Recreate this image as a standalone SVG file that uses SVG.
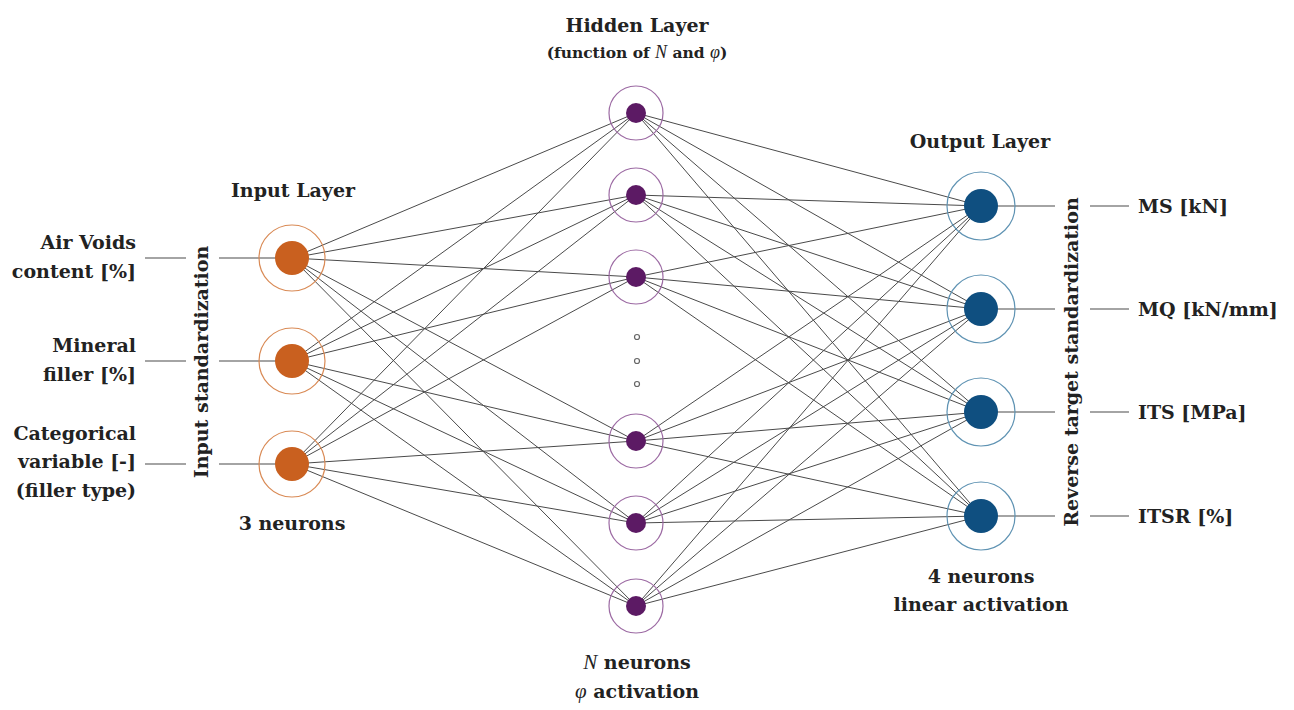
<svg xmlns="http://www.w3.org/2000/svg" width="1294" height="710" viewBox="0 0 1294 710">
<style>
text{font-family:"DejaVu Serif","Liberation Serif",serif;font-weight:bold;fill:#222;}
.lbl{font-size:19px;}
.ttl{font-size:19px;text-anchor:middle;}
.sub{font-size:15.5px;text-anchor:middle;}
.it{font-family:"Liberation Serif","DejaVu Serif",serif;font-style:italic;font-weight:normal;}
.conn line{stroke:#4a4a4a;stroke-width:1;}
.io line{stroke:#4a4a4a;stroke-width:1.2;}
.in .ring{fill:none;stroke:#d98a55;stroke-width:1.2;}
.in .core{fill:#c9601f;}
.hid .ring{fill:none;stroke:#9c6aa3;stroke-width:1.2;}
.hid .core{fill:#5c1a64;}
.out .ring{fill:none;stroke:#5f93b3;stroke-width:1.2;}
.out .core{fill:#0f4f80;}
</style>
<rect width="1294" height="710" fill="#fff"/>
<g class="conn">
<line x1="292" y1="258" x2="636" y2="113"/><line x1="292" y1="258" x2="636" y2="195"/><line x1="292" y1="258" x2="636" y2="277"/><line x1="292" y1="258" x2="636" y2="441"/><line x1="292" y1="258" x2="636" y2="523"/><line x1="292" y1="258" x2="636" y2="606"/>
<line x1="292" y1="361" x2="636" y2="113"/><line x1="292" y1="361" x2="636" y2="195"/><line x1="292" y1="361" x2="636" y2="277"/><line x1="292" y1="361" x2="636" y2="441"/><line x1="292" y1="361" x2="636" y2="523"/><line x1="292" y1="361" x2="636" y2="606"/>
<line x1="292" y1="464" x2="636" y2="113"/><line x1="292" y1="464" x2="636" y2="195"/><line x1="292" y1="464" x2="636" y2="277"/><line x1="292" y1="464" x2="636" y2="441"/><line x1="292" y1="464" x2="636" y2="523"/><line x1="292" y1="464" x2="636" y2="606"/>
<line x1="636" y1="113" x2="981" y2="206"/><line x1="636" y1="113" x2="981" y2="309"/><line x1="636" y1="113" x2="981" y2="412"/><line x1="636" y1="113" x2="981" y2="516"/>
<line x1="636" y1="195" x2="981" y2="206"/><line x1="636" y1="195" x2="981" y2="309"/><line x1="636" y1="195" x2="981" y2="412"/><line x1="636" y1="195" x2="981" y2="516"/>
<line x1="636" y1="277" x2="981" y2="206"/><line x1="636" y1="277" x2="981" y2="309"/><line x1="636" y1="277" x2="981" y2="412"/><line x1="636" y1="277" x2="981" y2="516"/>
<line x1="636" y1="441" x2="981" y2="206"/><line x1="636" y1="441" x2="981" y2="309"/><line x1="636" y1="441" x2="981" y2="412"/><line x1="636" y1="441" x2="981" y2="516"/>
<line x1="636" y1="523" x2="981" y2="206"/><line x1="636" y1="523" x2="981" y2="309"/><line x1="636" y1="523" x2="981" y2="412"/><line x1="636" y1="523" x2="981" y2="516"/>
<line x1="636" y1="606" x2="981" y2="206"/><line x1="636" y1="606" x2="981" y2="309"/><line x1="636" y1="606" x2="981" y2="412"/><line x1="636" y1="606" x2="981" y2="516"/>
</g>
<g class="io">
<line x1="145" y1="258" x2="186" y2="258"/><line x1="219" y1="258" x2="292" y2="258"/>
<line x1="145" y1="361" x2="186" y2="361"/><line x1="219" y1="361" x2="292" y2="361"/>
<line x1="145" y1="464" x2="186" y2="464"/><line x1="219" y1="464" x2="292" y2="464"/>
<line x1="981" y1="206" x2="1055" y2="206"/><line x1="1090" y1="206" x2="1129" y2="206"/>
<line x1="981" y1="309" x2="1055" y2="309"/><line x1="1090" y1="309" x2="1129" y2="309"/>
<line x1="981" y1="412" x2="1055" y2="412"/><line x1="1090" y1="412" x2="1129" y2="412"/>
<line x1="981" y1="516" x2="1055" y2="516"/><line x1="1090" y1="516" x2="1129" y2="516"/>
</g>
<g id="input-nodes" class="in">
<g id="in1"><circle class="ring" cx="292" cy="258" r="33"/><circle class="core" cx="292" cy="258" r="17"/></g>
<g id="in2"><circle class="ring" cx="292" cy="361" r="33"/><circle class="core" cx="292" cy="361" r="17"/></g>
<g id="in3"><circle class="ring" cx="292" cy="464" r="33"/><circle class="core" cx="292" cy="464" r="17"/></g>
</g>
<g id="hidden-nodes" class="hid">
<g id="h1"><circle class="ring" cx="636" cy="113" r="27"/><circle class="core" cx="636" cy="113" r="10"/></g>
<g id="h2"><circle class="ring" cx="636" cy="195" r="27"/><circle class="core" cx="636" cy="195" r="10"/></g>
<g id="h3"><circle class="ring" cx="636" cy="277" r="27"/><circle class="core" cx="636" cy="277" r="10"/></g>
<g id="h4"><circle class="ring" cx="636" cy="441" r="27"/><circle class="core" cx="636" cy="441" r="10"/></g>
<g id="h5"><circle class="ring" cx="636" cy="523" r="27"/><circle class="core" cx="636" cy="523" r="10"/></g>
<g id="h6"><circle class="ring" cx="636" cy="606" r="27"/><circle class="core" cx="636" cy="606" r="10"/></g>
<g id="dots" fill="none" stroke="#666" stroke-width="1.2"><circle cx="637" cy="337" r="2.5"/><circle cx="637" cy="361" r="2.5"/><circle cx="637" cy="384" r="2.5"/></g>
</g>
<g id="output-nodes" class="out">
<g id="o1"><circle class="ring" cx="981" cy="206" r="34"/><circle class="core" cx="981" cy="206" r="17"/></g>
<g id="o2"><circle class="ring" cx="981" cy="309" r="34"/><circle class="core" cx="981" cy="309" r="17"/></g>
<g id="o3"><circle class="ring" cx="981" cy="412" r="34"/><circle class="core" cx="981" cy="412" r="17"/></g>
<g id="o4"><circle class="ring" cx="981" cy="516" r="34"/><circle class="core" cx="981" cy="516" r="17"/></g>
</g>
<g id="labels">
<text class="lbl" x="136" y="249" text-anchor="end">Air Voids</text>
<text class="lbl" x="136" y="278" text-anchor="end">content [%]</text>
<text class="lbl" x="136" y="352" text-anchor="end">Mineral</text>
<text class="lbl" x="136" y="381" text-anchor="end">filler [%]</text>
<text class="lbl" x="136" y="440" text-anchor="end">Categorical</text>
<text class="lbl" x="136" y="468" text-anchor="end">variable [-]</text>
<text class="lbl" x="136" y="497" text-anchor="end">(filler type)</text>
<text class="lbl" text-anchor="middle" transform="translate(208,362) rotate(-90)">Input standardization</text>
<text class="lbl" text-anchor="middle" transform="translate(1078,362) rotate(-90)">Reverse target standardization</text>
<text class="lbl" x="1138" y="213">MS [kN]</text>
<text class="lbl" x="1138" y="316">MQ [kN/mm]</text>
<text class="lbl" x="1138" y="419">ITS [MPa]</text>
<text class="lbl" x="1138" y="523">ITSR [%]</text>
<text class="ttl" x="293" y="197">Input Layer</text>
<text class="ttl" x="292" y="530">3 neurons</text>
<text class="ttl" x="637" y="32">Hidden Layer</text>
<text class="sub" x="637" y="58">(function of <tspan class="it" font-size="18">N</tspan> and <tspan class="it" font-size="18">φ</tspan>)</text>
<text class="ttl" x="637" y="669"><tspan class="it" font-size="21">N</tspan> neurons</text>
<text class="ttl" x="637" y="698"><tspan class="it" font-size="21">φ</tspan> activation</text>
<text class="ttl" x="980" y="148">Output Layer</text>
<text class="ttl" x="981" y="583">4 neurons</text>
<text class="ttl" x="981" y="611">linear activation</text>
</g>
</svg>
